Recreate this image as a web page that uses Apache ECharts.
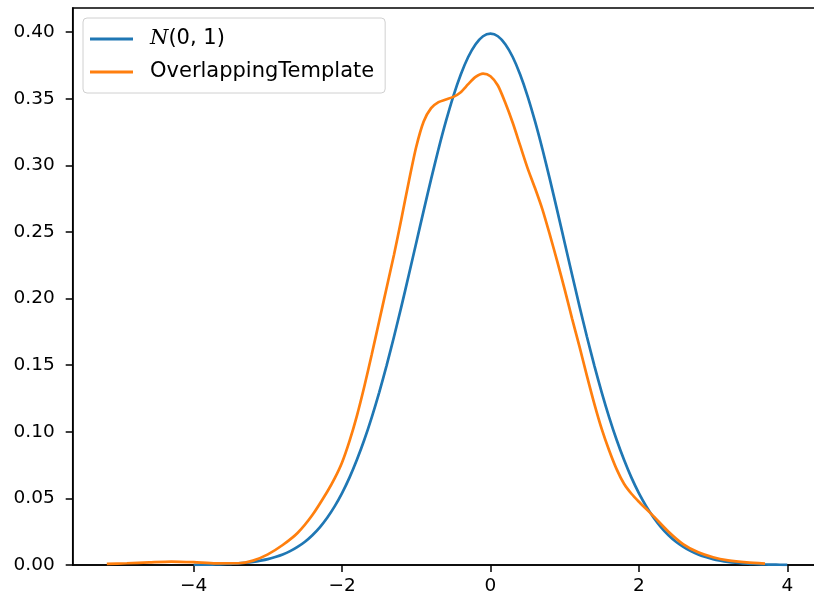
<!DOCTYPE html>
<html>
<head>
<meta charset="utf-8">
<script src="https://cdn.jsdelivr.net/npm/echarts@6/dist/echarts.min.js"></script>
<style>
  html, body { margin: 0; padding: 0; background: #fff; }
  #chart { width: 814px; height: 602px; }
</style>
</head>
<body>
<div id="chart"></div>
<script>
// Standard normal density, sampled every 0.1 from -4 to 4
const normalX = [
  -4.0, -3.9, -3.8, -3.7, -3.6, -3.5, -3.4, -3.3, -3.2, -3.1, -3.0, -2.9, -2.8, -2.7, -2.6, -2.5, -2.4, -2.3, -2.2, -2.1,
  -2.0, -1.9, -1.8, -1.7, -1.6, -1.5, -1.4, -1.3, -1.2, -1.1, -1.0, -0.9, -0.8, -0.7, -0.6, -0.5, -0.4, -0.3, -0.2, -0.1,
  0.0, 0.1, 0.2, 0.3, 0.4, 0.5, 0.6, 0.7, 0.8, 0.9, 1.0, 1.1, 1.2, 1.3, 1.4, 1.5, 1.6, 1.7, 1.8, 1.9,
  2.0, 2.1, 2.2, 2.3, 2.4, 2.5, 2.6, 2.7, 2.8, 2.9, 3.0, 3.1, 3.2, 3.3, 3.4, 3.5, 3.6, 3.7, 3.8, 3.9, 4.0];
const normalDensity = [
  0.0001, 0.0002, 0.0003, 0.0004, 0.0006, 0.0009, 0.0012, 0.0017, 0.0024, 0.0033, 0.0044, 0.0060, 0.0079, 0.0104,
  0.0136, 0.0175, 0.0224, 0.0283, 0.0355, 0.0440, 0.0540, 0.0656, 0.0790, 0.0940, 0.1109, 0.1295, 0.1497, 0.1714,
  0.1942, 0.2179, 0.2420, 0.2661, 0.2897, 0.3123, 0.3332, 0.3521, 0.3683, 0.3814, 0.3910, 0.3970,
  0.3989,
  0.3970, 0.3910, 0.3814, 0.3683, 0.3521, 0.3332, 0.3123, 0.2897, 0.2661, 0.2420, 0.2179, 0.1942, 0.1714, 0.1497,
  0.1295, 0.1109, 0.0940, 0.0790, 0.0656, 0.0540, 0.0440, 0.0355, 0.0283, 0.0224, 0.0175, 0.0136, 0.0104, 0.0079,
  0.0060, 0.0044, 0.0033, 0.0024, 0.0017, 0.0012, 0.0009, 0.0006, 0.0004, 0.0003, 0.0002, 0.0001];

// Kernel density estimate of the OverlappingTemplate statistic
const templateX = [
  -5.17, -4.9, -4.6, -4.3, -4.0, -3.7, -3.4, -3.2, -3.0, -2.8, -2.6, -2.4, -2.2, -2.1,
  -2.0, -1.9, -1.8, -1.7, -1.6, -1.5, -1.4, -1.3, -1.2, -1.1, -1.0, -0.9, -0.8, -0.7, -0.6, -0.5, -0.4, -0.3, -0.2, -0.1,
  0.0, 0.1, 0.2, 0.3, 0.4, 0.5, 0.6, 0.7, 0.8, 0.9, 1.0, 1.1, 1.2, 1.3, 1.4, 1.5, 1.6, 1.7, 1.8, 1.9,
  2.0, 2.1, 2.2, 2.4, 2.6, 2.8, 3.0, 3.2, 3.45, 3.7];
const templateDensity = [
  0.0008, 0.0013, 0.0020, 0.0026, 0.0021, 0.0012, 0.0013, 0.0033, 0.0080, 0.0150, 0.0240, 0.0375, 0.0550, 0.0650,
  0.0770, 0.0930, 0.1120, 0.1340, 0.1580, 0.1830, 0.2080, 0.2330, 0.2600, 0.2880, 0.3140, 0.3330, 0.3430, 0.3475,
  0.3495, 0.3515, 0.3550, 0.3610, 0.3665, 0.3690,
  0.3670, 0.3600, 0.3470, 0.3320, 0.3150, 0.2980, 0.2830, 0.2670, 0.2480, 0.2280, 0.2070, 0.1850, 0.1640, 0.1420,
  0.1210, 0.1020, 0.0860, 0.0720, 0.0610, 0.0535,
  0.0475, 0.0420, 0.0365, 0.0250, 0.0155, 0.0095, 0.0058, 0.0035, 0.0019, 0.0010];

const seriesNames = ['N(0, 1)', 'OverlappingTemplate'];
const xTicks = [-4, -2, 0, 2, 4];
const yTicks = [0, 0.05, 0.10, 0.15, 0.20, 0.25, 0.30, 0.35, 0.40];

const pairs = (xs, ys) => xs.map((x, i) => [x, ys[i]]);
const minus = (s) => s.replace('-', '\u2212');

const chart = echarts.init(document.getElementById('chart'), null, { renderer: 'canvas' });
const labelFont = { fontFamily: 'DejaVu Sans', fontSize: 18.5, color: '#000' };

chart.setOption({
  animation: false,
  backgroundColor: '#fff',
  grid: {
    left: 72.7, top: 8, width: 748.7, height: 557,
    show: true, borderColor: '#000', borderWidth: 1.5,
    outerBoundsMode: 'none', containLabel: false
  },
  xAxis: {
    type: 'value', min: -5.63, max: 4.46,
    axisLine: { show: true, onZero: false, lineStyle: { color: '#000', width: 1.5 } },
    axisTick: { show: true, inside: false, length: 7, customValues: xTicks, lineStyle: { color: '#000', width: 1.5 } },
    axisLabel: Object.assign({ margin: 12, customValues: xTicks, formatter: (v) => minus(String(v)) }, labelFont),
    splitLine: { show: false }
  },
  yAxis: {
    type: 'value', min: 0, max: 0.4182,
    axisLine: { show: true, onZero: false, lineStyle: { color: '#000', width: 1.5 } },
    axisTick: { show: true, inside: false, length: 7, customValues: yTicks, lineStyle: { color: '#000', width: 1.5 } },
    axisLabel: Object.assign({ margin: 18, customValues: yTicks, formatter: (v) => v.toFixed(2) }, labelFont),
    splitLine: { show: false }
  },
  legend: {
    left: 83, top: 18,
    orient: 'vertical',
    backgroundColor: '#fff', borderColor: '#d0d0d0', borderWidth: 1, borderRadius: 4,
    padding: [8, 11, 8, 7],
    itemGap: 7, itemWidth: 43, itemHeight: 3,
    icon: 'rect',
    data: seriesNames,
    formatter: (name) => name === seriesNames[0] ? '{cal|N}(0, 1)' : name,
    textStyle: {
      fontFamily: 'DejaVu Sans', fontSize: 21, color: '#000', lineHeight: 26,
      padding: [0, 0, 0, 12],
      rich: {
        cal: { fontFamily: 'DejaVu Serif', fontStyle: 'italic', fontSize: 21, color: '#000', lineHeight: 26 }
      }
    }
  },
  series: [
    {
      name: seriesNames[0], type: 'line', data: pairs(normalX, normalDensity),
      showSymbol: false, smooth: 0.25,
      lineStyle: { color: '#1f77b4', width: 2.7 }, itemStyle: { color: '#1f77b4' }
    },
    {
      name: seriesNames[1], type: 'line', data: pairs(templateX, templateDensity),
      showSymbol: false, smooth: 0.25,
      lineStyle: { color: '#ff7f0e', width: 2.7 }, itemStyle: { color: '#ff7f0e' }
    }
  ]
});
</script>
</body>
</html>
